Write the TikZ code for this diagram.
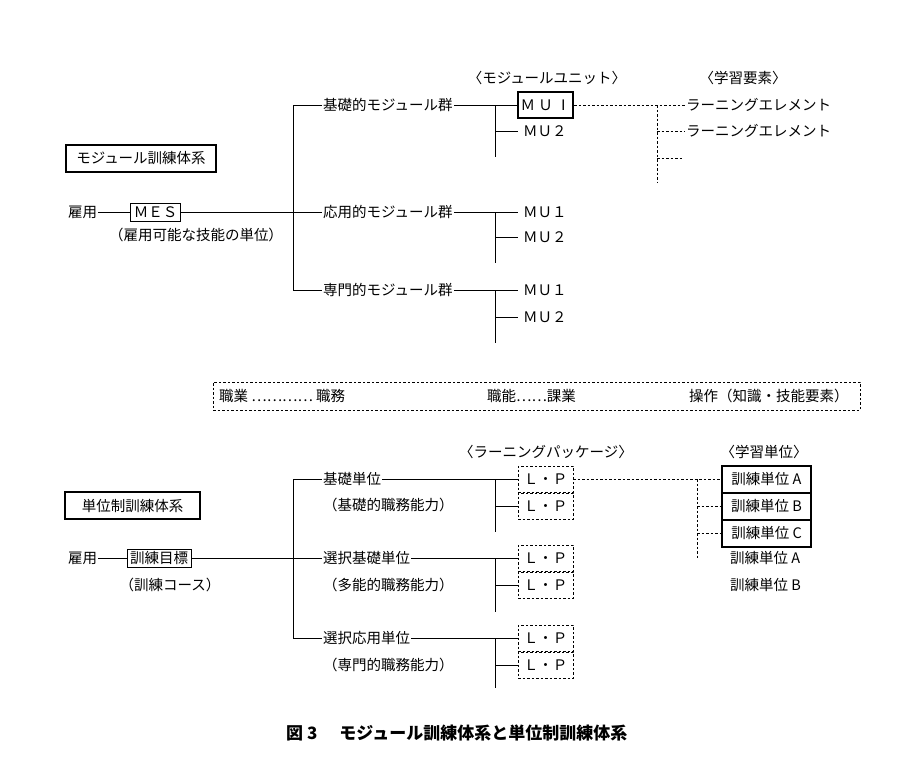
\documentclass[tikz,border=0pt]{standalone}
\usepackage{fontspec}
\newfontfamily\cjk{Noto Sans CJK JP}
\usetikzlibrary{positioning}

\newcommand{\jpfont}{\cjk\fontsize{14.5pt}{17pt}\selectfont}
\newcommand{\capfont}{\cjk\bfseries\fontsize{17pt}{20pt}\selectfont}

\begin{document}
\begin{tikzpicture}[
    x=1pt, y=-1pt,
    every node/.style={font=\jpfont, inner sep=1pt},
    txt/.style={anchor=west},
    mutxt/.style={anchor=west, inner xsep=5pt},
    sysbox/.style={draw, line width=2pt, minimum height=27pt, inner xsep=0pt},
    namebox/.style={draw, line width=0.6pt, minimum height=18pt, inner xsep=3pt},
    mubox/.style={draw, line width=2pt, minimum width=55pt, minimum height=26pt},
    lpbox/.style={draw, dotlink, minimum width=55pt, minimum height=26pt, outer sep=0pt},
    unitbox/.style={draw, line width=2pt, minimum width=89pt, minimum height=27pt, outer sep=0pt},
    link/.style={line width=0.7pt},
    dotlink/.style={line width=0.6pt, dash pattern=on 2.5pt off 2pt}
]
    \useasboundingbox (0,0) rectangle (919,779);

    % Module system ----------------------------------------------

    \node[sysbox, minimum width=150pt] (modsys) at (141,158.5) {モジュール訓練体系};
    \node[txt] (emp1) at (67,212) {雇用};
    \node[namebox] (mes) at (155.5,212) {ＭＥＳ};
    \node (mesnote) at (196,235) {（雇用可能な技能の単位）};

    \node[txt] (basic) at (322,105) {基礎的モジュール群};
    \node[txt] (applied) at (322,212) {応用的モジュール群};
    \node[txt] (special) at (322,290) {専門的モジュール群};

    \node (unithd) at (547,78) {〈モジュールユニット〉};
    \node (elemhd) at (743,78) {〈学習要素〉};

    \node[mubox] (mu11) at (545.5,105) {Ｍ Ｕ Ⅰ};
    \node[mutxt] (mu12) at (518,131) {ＭＵ２};
    \node[mutxt] (mu21) at (518,212) {ＭＵ１};
    \node[mutxt] (mu22) at (518,237) {ＭＵ２};
    \node[mutxt] (mu31) at (518,290) {ＭＵ１};
    \node[mutxt] (mu32) at (518,317) {ＭＵ２};

    \node[txt] (le1) at (685,105) {ラーニングエレメント};
    \node[txt] (le2) at (685,131) {ラーニングエレメント};
    \coordinate (le3) at (682,158);

    % Lines
    \draw[link] (emp1) -- (mes);
    \draw[link] (mes) -- (applied);
    \draw[link] (basic.west) -- ++(-29,0) |- (special.west);
    \draw[link] (basic) -- (mu11);
    \draw[link] (applied) -- (mu21);
    \draw[link] (special) -- (mu31);

    \coordinate (j1) at (495,157);
    \coordinate (j2) at (495,263);
    \coordinate (j3) at (495,343);
    \draw[link] (j1 |- basic) -- (j1);
    \draw[link] (j1 |- mu12) -- (mu12.west);
    \draw[link] (j2 |- applied) -- (j2);
    \draw[link] (j2 |- mu22) -- (mu22.west);
    \draw[link] (j3 |- special) -- (j3);
    \draw[link] (j3 |- mu32) -- (mu32.west);

    % Dotted lines
    \coordinate (d1) at (657,183);
    \draw[dotlink] (mu11) -- (le1);
    \draw[dotlink] (d1 |- mu11) -- (d1);
    \draw[dotlink] (d1 |- le2) -- (le2.west);
    \draw[dotlink] (d1 |- le3) -- (le3);

    % Middle band ------------------------------------------------

    \node[draw, dotlink, minimum width=647pt, minimum height=28pt] (band) at (536.5,396) {};
    \node[txt] (job) at (218,396) {職業 ………… 職務};
    \node[txt] (func) at (486,396) {職能……課業};
    \node[txt] (oper) at (688,396) {操作（知識・技能要素）};

    % Unit system ------------------------------------------------

    \node[sysbox, minimum width=135pt] (unitsys) at (132.5,505.5) {単位制訓練体系};
    \node[txt] (emp2) at (67,558) {雇用};
    \node[namebox] (goal) at (159,558) {訓練目標};
    \node (goalnote) at (170,585) {（訓練コース）};

    \node[txt] (bu1) at (322,479) {基礎単位};
    \node[txt] (bu1n) at (322,505) {（基礎的職務能力）};
    \node[txt] (su1) at (322,558) {選択基礎単位};
    \node[txt] (su1n) at (322,585) {（多能的職務能力）};
    \node[txt] (au1) at (322,638) {選択応用単位};
    \node[txt] (au1n) at (322,665) {（専門的職務能力）};

    \node (lphd) at (546,452) {〈ラーニングパッケージ〉};
    \node (unitshd) at (764,452) {〈学習単位〉};

    \node[lpbox] (lp11) at (545.5,479) {Ｌ・Ｐ};
    \node[lpbox, below=1pt of lp11] (lp12) {Ｌ・Ｐ};
    \node[lpbox] (lp21) at (545.5,558) {Ｌ・Ｐ};
    \node[lpbox, below=1pt of lp21] (lp22) {Ｌ・Ｐ};
    \node[lpbox] (lp31) at (545.5,638) {Ｌ・Ｐ};
    \node[lpbox, below=1pt of lp31] (lp32) {Ｌ・Ｐ};

    \node[unitbox] (tu1) at (766.5,479) {訓練単位 A};
    \node[unitbox, below=0pt of tu1] (tu2) {訓練単位 B};
    \node[unitbox, below=0pt of tu2] (tu3) {訓練単位 C};
    \node[txt] (tu4) at (729,558) {訓練単位 A};
    \node[txt] (tu5) at (729,585) {訓練単位 B};

    % Lines
    \draw[link] (emp2) -- (goal);
    \draw[link] (goal) -- (su1);
    \draw[link] (bu1.west) -- ++(-29,0) |- (au1.west);
    \draw[link] (bu1) -- (lp11);
    \draw[link] (su1) -- (lp21);
    \draw[link] (au1) -- (lp31);

    \coordinate (k1) at (495,532);
    \coordinate (k2) at (495,612);
    \coordinate (k3) at (495,688);
    \draw[link] (k1 |- bu1) -- (k1);
    \draw[link] (k1 |- lp12) -- (lp12.west);
    \draw[link] (k2 |- su1) -- (k2);
    \draw[link] (k2 |- lp22) -- (lp22.west);
    \draw[link] (k3 |- au1) -- (k3);
    \draw[link] (k3 |- lp32) -- (lp32.west);

    % Dotted lines
    \coordinate (d2) at (697,558);
    \draw[dotlink] (lp11) -- (tu1);
    \draw[dotlink] (d2 |- lp11) -- (d2);
    \draw[dotlink] (d2 |- tu2) -- (tu2.west);
    \draw[dotlink] (d2 |- tu3) -- (tu3.west);

    % Caption
    \node[txt, font=\capfont] (caption) at (285,733) {図 3\hspace{22pt}モジュール訓練体系と単位制訓練体系};

\end{tikzpicture}
\end{document}
